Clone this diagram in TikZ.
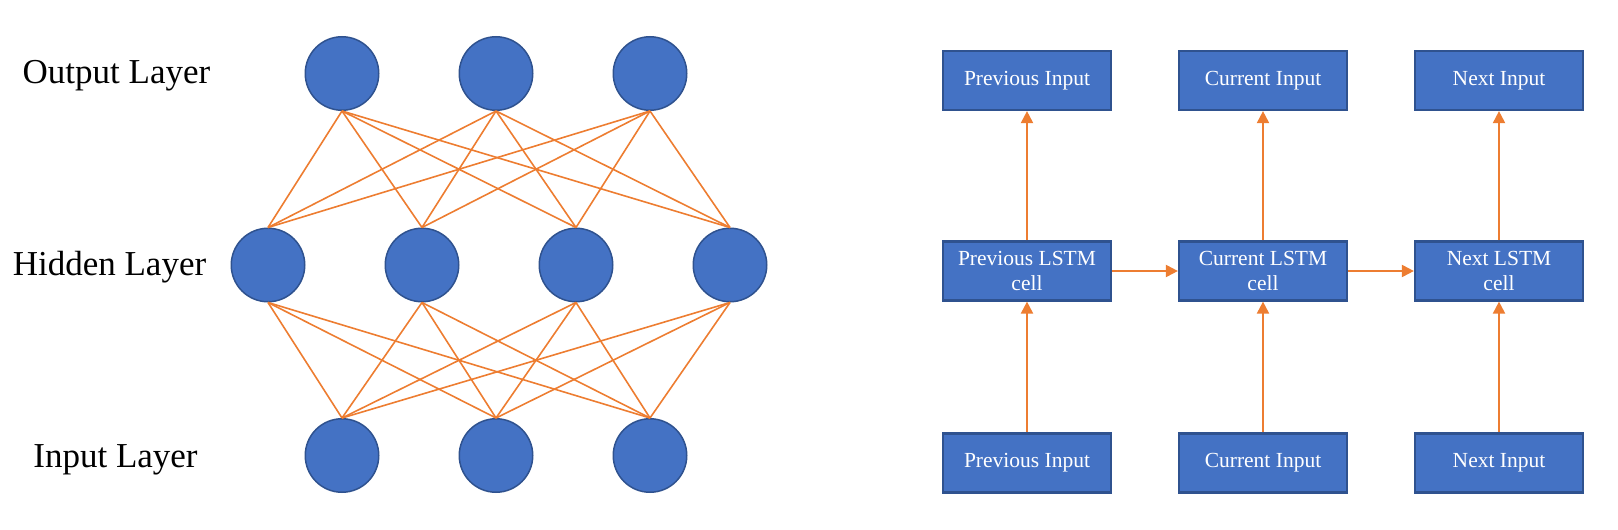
\documentclass[tikz,border=0pt]{standalone}
\usepackage{fontspec}
\setmainfont{Liberation Serif}
\usetikzlibrary{arrows.meta}
\definecolor{nnblue}{HTML}{4472C4}
\definecolor{nnedge}{HTML}{2F528F}
\definecolor{nnorange}{HTML}{ED7D31}
\tikzset{
  neuron/.style={circle, fill=nnblue, draw=nnedge, line width=1.5pt, minimum size=73.5pt, inner sep=0pt},
  layerlabel/.style={anchor=base, font=\fontsize{35}{40}\selectfont, text=black, inner sep=0pt},
  link/.style={draw=nnorange, line width=1.6pt},
  cellbox/.style={rectangle, fill=nnblue, draw=nnedge, line width=2.2pt, minimum width=168pt, minimum height=59pt, inner sep=0pt, text=white, align=center, font=\fontsize{21.5}{25}\selectfont},
  flow/.style={draw=nnorange, line width=2pt, -{Triangle[length=12pt,width=12pt]}}
}
\begin{document}
\begin{tikzpicture}[x=1pt,y=-1pt]
\path[use as bounding box] (0,0) rectangle (1618,530);
% labels
\node[layerlabel] (lout) at (116.5,83) {Output Layer};
\node[layerlabel] (lhid) at (109.5,275) {Hidden Layer};
\node[layerlabel] (lin) at (115.5,467) {Input Layer};
% neurons
\foreach \i/\x in {1/342,2/496,3/650} {
  \node[neuron] (o\i) at (\x,73.5) {};
  \node[neuron] (n\i) at (\x,455.5) {};
}
\foreach \i/\x in {1/268,2/422,3/576,4/730} {
  \node[neuron] (h\i) at (\x,265) {};
}
% connections
\foreach \a in {1,2,3} {
  \foreach \b in {1,2,3,4} {
    \draw[link] (o\a.south) -- (h\b.north);
    \draw[link] (h\b.south) -- (n\a.north);
  }
}
% LSTM side
\node[cellbox] (pt) at (1027,80.5) {Previous Input};
\node[cellbox] (ct) at (1263,80.5) {Current Input};
\node[cellbox] (nt) at (1499,80.5) {Next Input};
\node[cellbox] (pc) at (1027,271) {Previous LSTM\\cell};
\node[cellbox] (cc) at (1263,271) {Current LSTM\\cell};
\node[cellbox] (nc) at (1499,271) {Next LSTM\\cell};
\node[cellbox] (pb) at (1027,463) {Previous Input};
\node[cellbox] (cb) at (1263,463) {Current Input};
\node[cellbox] (nb) at (1499,463) {Next Input};
\draw[flow] (pc) -- (pt);
\draw[flow] (cc) -- (ct);
\draw[flow] (nc) -- (nt);
\draw[flow] (pb) -- (pc);
\draw[flow] (cb) -- (cc);
\draw[flow] (nb) -- (nc);
\draw[flow] (pc) -- (cc);
\draw[flow] (cc) -- (nc);
\end{tikzpicture}
\end{document}
